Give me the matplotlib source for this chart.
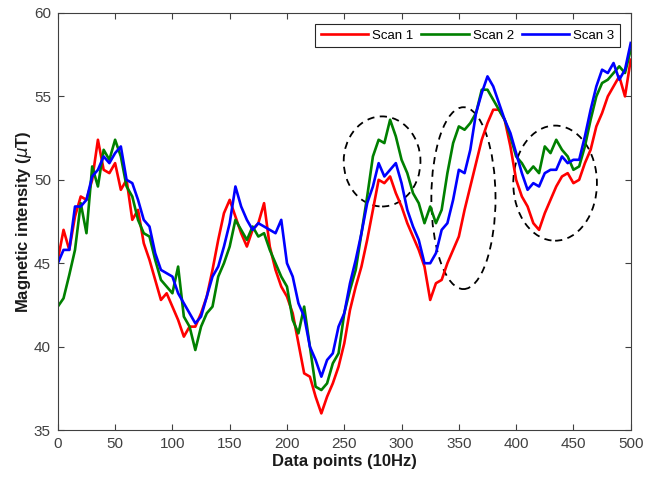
# magnetic intensity of three scans over the same path, with the regions of difference circled
import numpy as np
import matplotlib.pyplot as plt
from matplotlib.patches import Ellipse

plt.rcParams['font.family'] = ['Liberation Sans', 'DejaVu Sans']

# DATA (every 5th data point)
data_points = np.arange(0, 501, 5)

scan_1 = [45.2, 47.0, 45.8, 47.8, 49.0, 48.8, 50.0, 52.4, 50.6, 50.4,
          51.0, 49.4, 50.0, 47.6, 48.2, 46.2, 45.2, 44.0, 42.8, 43.2,
          42.4, 41.6, 40.6, 41.2, 41.2, 42.0, 43.0, 44.6, 46.4, 48.0,
          48.8, 47.8, 46.8, 46.0, 47.0, 47.4, 48.6, 46.0, 44.6, 43.6,
          43.0, 42.0, 40.2, 38.4, 38.2, 37.0, 36.0, 37.0, 37.8, 38.8,
          40.2, 42.2, 43.6, 44.8, 46.4, 48.2, 50.0, 49.8, 50.2, 49.2,
          48.4, 47.4, 46.6, 45.8, 44.8, 42.8, 43.8, 44.0, 45.0, 45.8,
          46.6, 48.2, 49.6, 51.0, 52.4, 53.4, 54.2, 54.2, 53.6, 52.0,
          50.0, 49.0, 48.4, 47.4, 47.0, 48.0, 48.8, 49.6, 50.2, 50.4,
          49.8, 50.0, 51.0, 51.8, 53.2, 54.0, 55.0, 55.6, 56.2, 55.0,
          57.2]

scan_2 = [42.4, 42.9, 44.3, 45.8, 48.6, 46.8, 50.8, 49.6, 51.8, 51.2,
          52.4, 51.4, 49.6, 49.0, 47.6, 46.8, 46.6, 45.2, 44.0, 43.6,
          43.2, 44.8, 41.8, 41.2, 39.8, 41.2, 42.0, 42.4, 44.2, 45.0,
          46.0, 47.6, 47.0, 46.4, 47.2, 46.6, 46.8, 45.8, 45.0, 44.2,
          43.6, 41.6, 40.8, 42.4, 40.0, 37.6, 37.4, 37.8, 39.0, 39.6,
          42.0, 43.4, 44.6, 46.8, 49.0, 51.4, 52.4, 52.2, 53.6, 52.6,
          51.2, 50.4, 49.2, 48.6, 47.4, 48.4, 47.4, 48.2, 50.4, 52.2,
          53.2, 53.0, 53.4, 54.0, 55.4, 55.4, 54.8, 54.2, 53.6, 52.6,
          51.4, 51.0, 50.4, 50.8, 50.4, 52.0, 51.6, 52.4, 51.8, 51.4,
          50.6, 50.8, 52.0, 53.6, 55.0, 55.8, 56.0, 56.4, 56.8, 56.4,
          57.8]

scan_3 = [45.0, 45.8, 45.8, 48.4, 48.4, 48.8, 50.2, 50.6, 51.4, 51.0,
          51.6, 52.0, 50.0, 49.8, 48.8, 47.6, 47.2, 45.6, 44.6, 44.4,
          44.2, 43.2, 42.6, 42.0, 41.4, 41.8, 43.0, 44.2, 44.8, 46.0,
          47.4, 49.6, 48.4, 47.6, 47.0, 47.4, 47.2, 47.0, 46.8, 47.6,
          45.0, 44.2, 42.6, 41.8, 40.0, 39.2, 38.2, 39.2, 39.6, 41.2,
          42.0, 43.8, 45.2, 46.8, 48.6, 49.6, 51.0, 50.2, 50.6, 51.0,
          49.8, 48.2, 47.2, 46.4, 45.0, 45.0, 45.6, 47.0, 47.4, 48.8,
          50.6, 50.4, 51.8, 54.0, 55.2, 56.2, 55.6, 54.6, 53.6, 52.8,
          51.6, 50.4, 49.4, 49.8, 49.6, 50.4, 50.6, 50.6, 51.4, 51.0,
          51.2, 51.2, 52.6, 54.2, 55.6, 56.6, 56.4, 57.0, 56.0, 56.6,
          58.2]

scan_names = ['Scan 1', 'Scan 2', 'Scan 3']
scan_colors = ['#ff0000', '#008000', '#0000ff']

# circled regions: centre x, centre y, width, height
circle_x = [283, 354, 434]
circle_y = [51.1, 48.9, 49.8]
circle_w = [67, 56, 73]
circle_h = [5.4, 10.9, 6.9]

# PLOT
fig = plt.figure(figsize=(6.57, 4.80), dpi=100)
ax = fig.add_axes([0.088, 0.104, 0.872, 0.869])

for values, name, color in zip([scan_1, scan_2, scan_3], scan_names, scan_colors):
    ax.plot(data_points, values, color=color, lw=1.9, label=name)

for cx, cy, w, h in zip(circle_x, circle_y, circle_w, circle_h):
    ax.add_patch(Ellipse((cx, cy), w, h, fill=False, ec='black', ls=(0, (4, 3)), lw=1.3))

ax.set_xlim(0, 500)
ax.set_ylim(35, 60)
ax.set_xticks(np.arange(0, 501, 50))
ax.set_yticks(np.arange(35, 61, 5))
ax.tick_params(direction='in', top=True, right=True, labelsize=11, colors='#404040',
               length=4, pad=5)
for spine in ax.spines.values():
    spine.set_color('#404040')
    spine.set_linewidth(0.8)

ax.set_xlabel('Data points (10Hz)', fontsize=12, fontweight='bold', labelpad=2, color='#1a1a1a')
ax.set_ylabel(r'Magnetic intensity ($\mu$T)', fontsize=12, fontweight='bold', labelpad=0,
              color='#1a1a1a')

leg = ax.legend(loc='upper right', ncol=3, fontsize=9.5, fancybox=False, framealpha=1,
                edgecolor='#262626', handlelength=3.6, columnspacing=0.6, handletextpad=0.3,
                borderaxespad=0.85, borderpad=0.4)
leg.get_frame().set_linewidth(0.8)

fig.savefig('out.png', dpi=100)
